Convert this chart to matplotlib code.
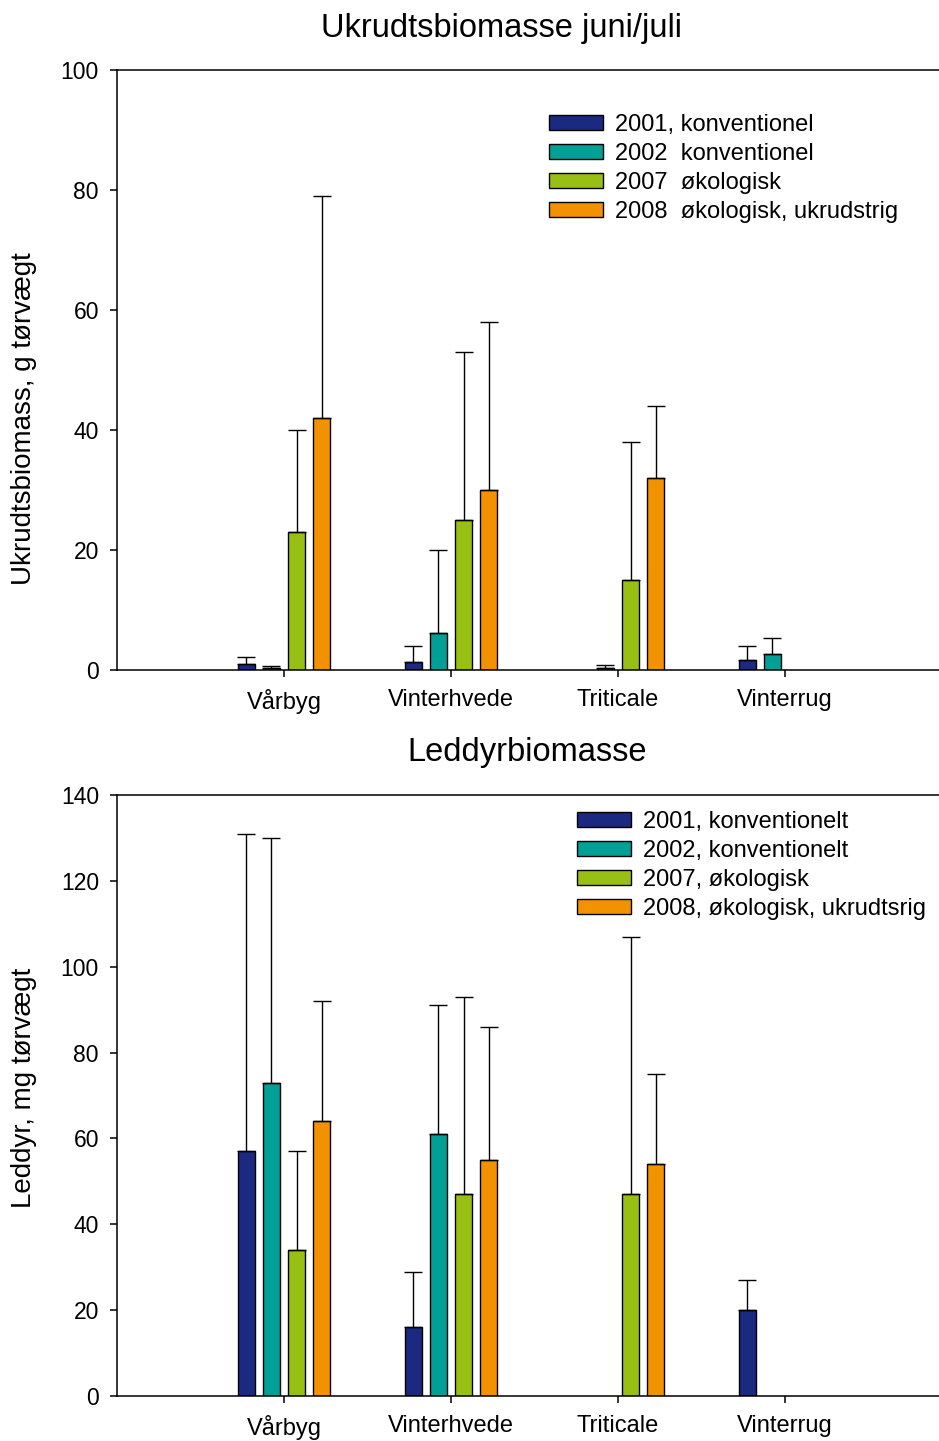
import numpy as np
import matplotlib.pyplot as plt

plt.rcParams['font.family'] = ['Liberation Sans', 'DejaVu Sans']

categories = ["Vårbyg", "Vinterhvede", "Triticale", "Vinterrug"]
colors = ["#1b2a80", "#00a096", "#98c014", "#f39200"]

# Ukrudtsbiomasse juni/juli (g tørvægt), means and upper error
weed_labels = ["2001, konventionel", "2002  konventionel",
               "2007  økologisk", "2008  økologisk, ukrudstrig"]
weed_2001 = [1.0, 1.3, np.nan, 1.7]
weed_2002 = [0.3, 6.2, 0.3, 2.6]
weed_2007 = [23, 25, 15, np.nan]
weed_2008 = [42, 30, 32, np.nan]
weed_err_2001 = [1.2, 2.7, np.nan, 2.3]
weed_err_2002 = [0.3, 13.8, 0.5, 2.8]
weed_err_2007 = [17, 28, 23, np.nan]
weed_err_2008 = [37, 28, 12, np.nan]

# Leddyrbiomasse (mg tørvægt)
arth_labels = ["2001, konventionelt", "2002, konventionelt",
               "2007, økologisk", "2008, økologisk, ukrudtsrig"]
arth_2001 = [57, 16, np.nan, 20]
arth_2002 = [73, 61, np.nan, np.nan]
arth_2007 = [34, 47, 47, np.nan]
arth_2008 = [64, 55, 54, np.nan]
arth_err_2001 = [74, 13, np.nan, 7]
arth_err_2002 = [57, 30, np.nan, np.nan]
arth_err_2007 = [23, 46, 60, np.nan]
arth_err_2008 = [28, 31, 21, np.nan]


def draw_panel(ax, series, errors, labels, ymax, ystep):
    x = np.arange(len(categories))
    width = 0.1
    step = 0.15
    for i, (vals, errs) in enumerate(zip(series, errors)):
        pos = x + (i - 1.5) * step
        vals = np.array(vals, dtype=float)
        errs = np.array(errs, dtype=float)
        ax.bar(pos, vals, width, color=colors[i], edgecolor="black",
               linewidth=1.0, label=labels[i], zorder=2)
        ax.errorbar(pos, vals, yerr=[np.zeros_like(errs), errs], fmt="none",
                    ecolor="black", elinewidth=1.0, capsize=6.5,
                    capthick=1.0, zorder=3)
    ax.set_xlim(-1, 4)
    ax.set_ylim(0, ymax)
    ax.set_xticks(x)
    ax.set_xticklabels(categories)
    ax.set_yticks(np.arange(0, ymax + 1, ystep))
    ax.spines["right"].set_visible(False)
    for s in ["left", "top", "bottom"]:
        ax.spines[s].set_linewidth(1.1)
    ax.tick_params(axis="y", direction="out", length=5, width=1.1,
                   labelsize=16.5, pad=8)
    ax.tick_params(axis="x", direction="out", length=5, width=1.1,
                   labelsize=17, pad=9)


fig = plt.figure(figsize=(9.39, 14.41), dpi=100)

ax1 = fig.add_axes([117 / 939, 1 - 670 / 1441, 835 / 939, 600 / 1441])
draw_panel(ax1, [weed_2001, weed_2002, weed_2007, weed_2008],
           [weed_err_2001, weed_err_2002, weed_err_2007, weed_err_2008],
           weed_labels, 100, 20)

ax2 = fig.add_axes([117 / 939, 1 - 1396 / 1441, 835 / 939, 601 / 1441])
draw_panel(ax2, [arth_2001, arth_2002, arth_2007, arth_2008],
           [arth_err_2001, arth_err_2002, arth_err_2007, arth_err_2008],
           arth_labels, 140, 20)

legend_kw = dict(frameon=False, loc="upper left", fontsize=17,
                 handlelength=2.3, handleheight=0.6, handletextpad=0.5,
                 labelspacing=0.3, borderpad=0, borderaxespad=0,
                 bbox_transform=fig.transFigure)
ax1.legend(bbox_to_anchor=(549 / 939, 1 - 114 / 1441), **legend_kw)
ax2.legend(bbox_to_anchor=(577 / 939, 1 - 811 / 1441), **legend_kw)

fig.text(501 / 939, 1 - 28 / 1441, "Ukrudtsbiomasse juni/juli",
         ha="center", va="center", fontsize=23.5)
fig.text(527 / 939, 1 - 752 / 1441, "Leddyrbiomasse",
         ha="center", va="center", fontsize=23.5)
fig.text(24 / 939, 1 - 419 / 1441, "Ukrudtsbiomass, g tørvægt",
         ha="center", va="center", rotation=90, fontsize=20)
fig.text(24 / 939, 1 - 1088 / 1441, "Leddyr, mg tørvægt",
         ha="center", va="center", rotation=90, fontsize=20)

fig.savefig("out.png", dpi=100)
